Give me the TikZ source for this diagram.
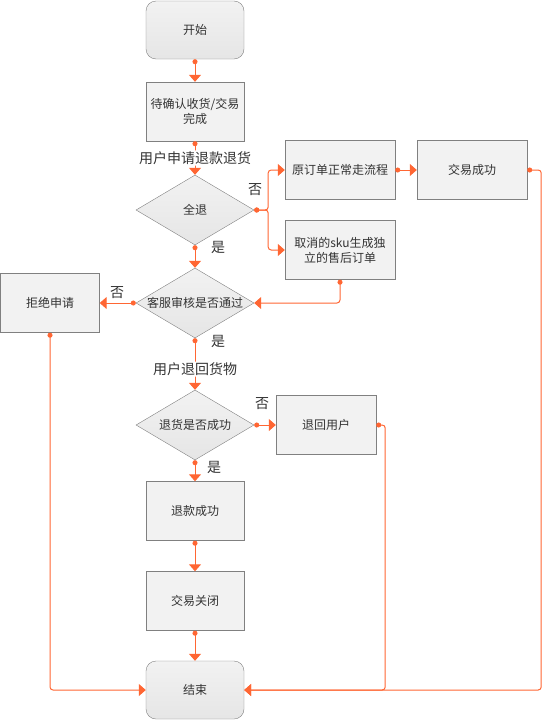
\documentclass[tikz,border=0pt]{standalone}
\usepackage{fontspec}
\setmainfont{Noto Sans CJK SC}
\usetikzlibrary{arrows.meta,shapes.geometric}
\definecolor{flow}{HTML}{FF6633}
\definecolor{rim}{HTML}{808080}
\definecolor{ink}{HTML}{333333}
\definecolor{boxfill}{HTML}{F2F2F2}

\begin{document}
\begin{tikzpicture}
	[x=1pt,y=-1pt,
	every node/.style={font=\fontsize{12}{15}\selectfont, text=ink, align=center},
	term/.style={draw=rim, rounded corners=10pt, top color=boxfill, bottom color=black!10, minimum width=98pt, minimum height=58pt},
	proc/.style={draw=rim, fill=boxfill, minimum width=98pt, minimum height=59pt},
	cond/.style={diamond, aspect=1.69, draw=rim, top color=boxfill, bottom color=black!10, minimum width=118pt, minimum height=70pt, inner sep=0pt},
	link/.style={draw=flow, line width=1pt, rounded corners=3pt, {Circle[length=5pt]}-{Triangle[width=12pt,length=7pt]}},
	tag/.style={font=\fontsize{14}{16}\selectfont, inner sep=1pt}]
	\useasboundingbox (0,0) rectangle (543,720);
	\node[term] (start) at (195,30) {开始};
	\node[proc] (confirm) at (195,111.5) {待确认收货/交易\\完成};
	\node[cond] (whole) at (195,210) {全退};
	\node[proc, minimum width=110pt] (normal) at (340,170) {原订单正常走流程};
	\node[proc, minimum width=110pt] (success) at (472,170) {交易成功};
	\node[proc, minimum width=110pt] (split) at (340,250) {取消的sku生成独\\立的售后订单};
	\node[cond] (review) at (195,303) {客服审核是否通过};
	\node[proc, minimum width=99pt] (reject) at (50,303) {拒绝申请};
	\node[cond] (returned) at (195,425) {退货是否成功};
	\node[proc, minimum width=100pt] (back) at (326,425) {退回用户};
	\node[proc] (refund) at (195,511) {退款成功};
	\node[proc] (close) at (195,601) {交易关闭};
	\node[term] (end) at (195,690) {结束};

	\foreach \from/\to in {start/confirm,normal/success,refund/close,close/end}
		\draw[link] (\from) -- (\to);

	\draw[link] (confirm) -- node[tag, fill=white] (ask) {用户申请退款退货} (whole);
	\draw[link] (whole.east) -- ++(14,0) |- (normal.west);
	\draw[link] (whole.east) -- ++(14,0) |- (split.west);
	\node[tag] (wno) at (255,190) {否};
	\draw[link] (whole) -- (review);
	\node[tag] (wyes) at (218,247) {是};
	\draw[link] (split.south) |- (review.east);
	\draw[link] (review.west) -- (reject.east);
	\node[tag] (rno) at (117,293) {否};
	\draw[link] (review) -- node[tag, fill=white, pos=.6] (ship) {用户退回货物} (returned);
	\node[tag] (ryes) at (218,341) {是};
	\draw[link] (returned.east) -- (back.west);
	\node[tag] (gno) at (262,404) {否};
	\draw[link] (returned) -- (refund);
	\node[tag] (gyes) at (214,467) {是};
	\draw[link] (success.east) -- ++(14,0) |- (end.east);
	\draw[link] (back.east) -- ++(9,0) |- (end.east);
	\draw[link] (reject.south) |- (end.west);
\end{tikzpicture}
\end{document}
